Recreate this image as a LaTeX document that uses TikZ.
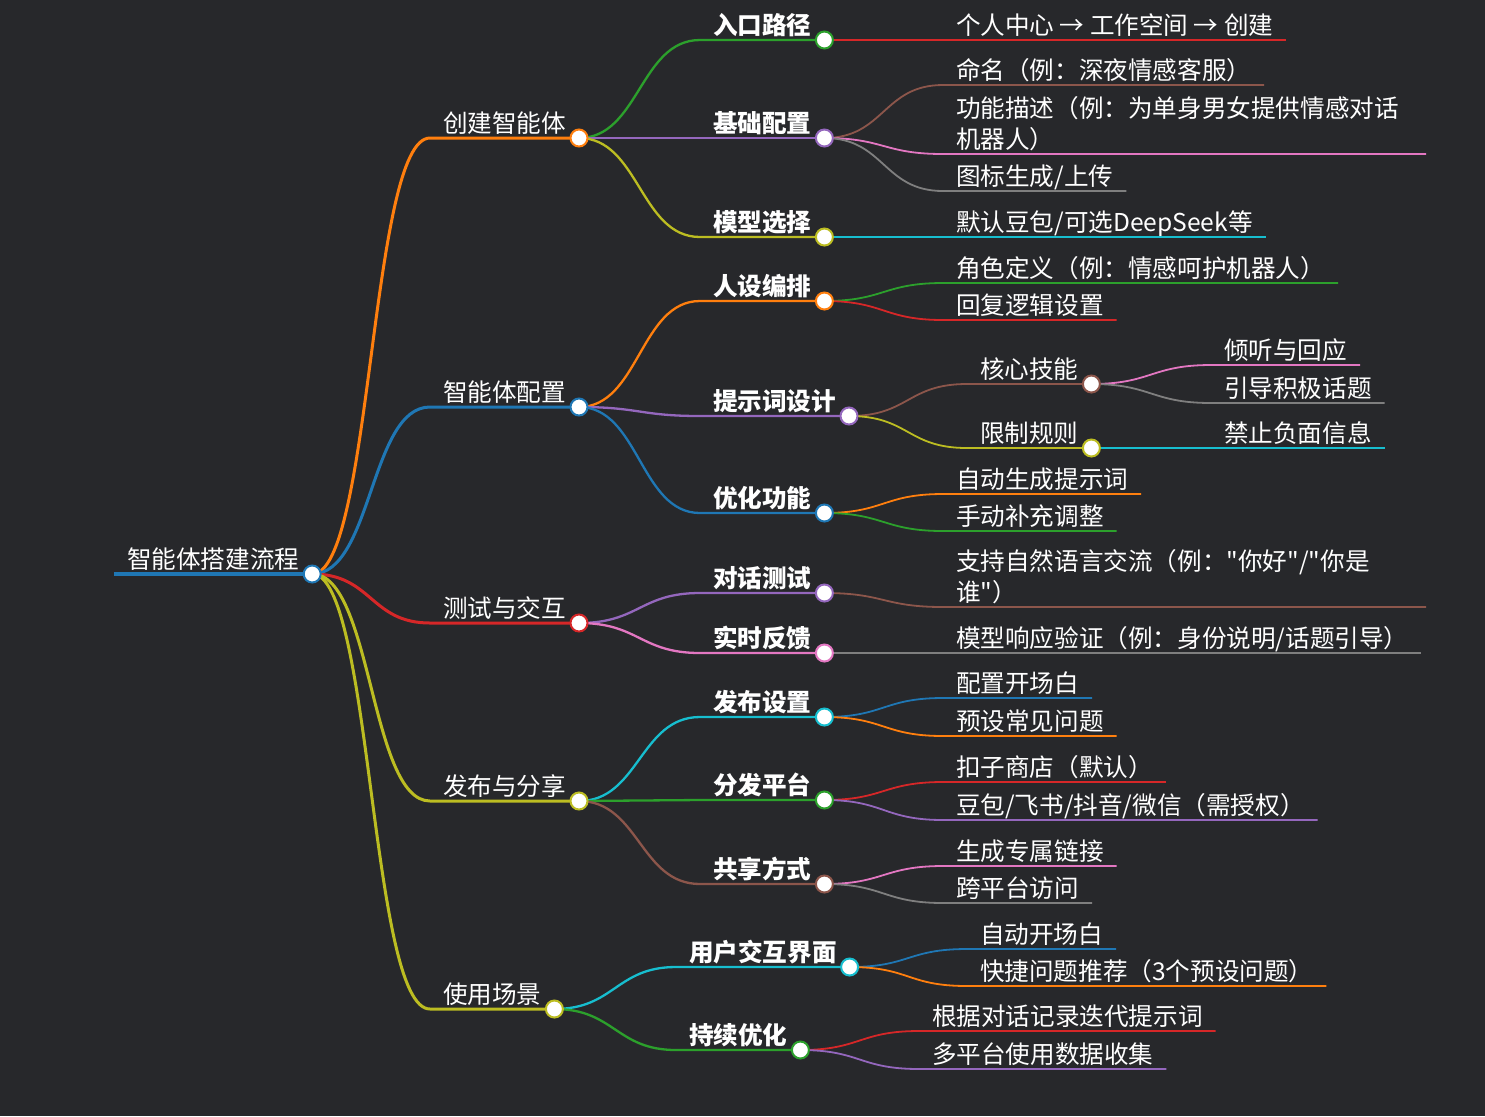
\documentclass[tikz,border=0pt]{standalone}
\usepackage{fontspec}
\setmainfont{Noto Sans CJK SC}[Ligatures=TeXOff]
\definecolor{bgdark}{RGB}{39,40,43}
\definecolor{mblue}{HTML}{1F77B4}
\definecolor{morange}{HTML}{FF7F0E}
\definecolor{mgreen}{HTML}{2CA02C}
\definecolor{mred}{HTML}{D62728}
\definecolor{mpurple}{HTML}{9467BD}
\definecolor{mbrown}{HTML}{8C564B}
\definecolor{mpink}{HTML}{E377C2}
\definecolor{mgray}{HTML}{7F7F7F}
\definecolor{molive}{HTML}{BCBD22}
\definecolor{mcyan}{HTML}{17BECF}

\begin{document}
\begin{tikzpicture}[
    x=0.5pt, y=-0.5pt,
    topic/.style={anchor=south west, text=white, inner xsep=6.5pt, inner ysep=2.6pt, text depth=0pt, outer sep=0pt, font=\fontsize{12.3}{15.5}\selectfont},
    sub/.style={topic, font=\fontsize{12.3}{15.5}\selectfont\bfseries},
    dot/.style={circle, fill=white, line width=1pt, inner sep=0pt, minimum size=8.5pt},
    lvA/.style={line width=1.5pt},
    lvB/.style={line width=1.15pt},
    lvC/.style={line width=0.9pt}
]
\useasboundingbox (0,0) rectangle (1485,1116);
\fill[bgdark] (0,0) rectangle (1485,1116);

% root and first level
\node[topic] (root) at (114,574) {智能体搭建流程};
\node[topic] (cj) at (430,138) {创建智能体};
\node[topic] (pz) at (430,407) {智能体配置};
\node[topic] (cs) at (430,623) {测试与交互};
\node[topic] (fb) at (430,801) {发布与分享};
\node[topic] (sy) at (430,1009) {使用场景};

% second level
\node[sub] (rk) at (700,40) {入口路径};
\node[sub] (jc) at (700,138) {基础配置};
\node[sub] (mx) at (700,237) {模型选择};
\node[sub] (rs) at (700,301) {人设编排};
\node[sub] (ts) at (700,416) {提示词设计};
\node[sub] (yh) at (700,513) {优化功能};
\node[sub] (dh) at (700,593) {对话测试};
\node[sub] (ss) at (700,653) {实时反馈};
\node[sub] (fs) at (700,717) {发布设置};
\node[sub] (ff) at (700,800) {分发平台};
\node[sub] (gx) at (700,884) {共享方式};
\node[sub] (jm) at (676,967) {用户交互界面};
\node[sub] (cx) at (676,1050) {持续优化};

% third level
\node[topic] (rkA) at (943,40) {个人中心 → 工作空间 → 创建};
\node[topic] (jcA) at (943,85) {命名（例：深夜情感客服）};
\node[topic] (jcB) at (943,154) {\parbox[b]{228.5pt}{功能描述（例：为单身男女提供情感对话\\机器人）}};
\node[topic] (jcC) at (943,191) {图标生成/上传};
\node[topic] (mxA) at (943,237) {默认豆包/可选DeepSeek等};
\node[topic] (rsA) at (943,283) {角色定义（例：情感呵护机器人）};
\node[topic] (rsB) at (943,320) {回复逻辑设置};
\node[topic] (hx) at (967,384) {核心技能};
\node[topic] (xz) at (967,448) {限制规则};
\node[topic] (yhA) at (943,494) {自动生成提示词};
\node[topic] (yhB) at (943,531) {手动补充调整};
\node[topic] (dhA) at (943,607) {\parbox[b]{228.5pt}{支持自然语言交流（例："你好"/"你是\\谁"）}};
\node[topic] (ssA) at (943,653) {模型响应验证（例：身份说明/话题引导）};
\node[topic] (fsA) at (943,698) {配置开场白};
\node[topic] (fsB) at (943,736) {预设常见问题};
\node[topic] (ffA) at (943,782) {扣子商店（默认）};
\node[topic] (ffB) at (943,820) {豆包/飞书/抖音/微信（需授权）};
\node[topic] (gxA) at (943,866) {生成专属链接};
\node[topic] (gxB) at (943,903) {跨平台访问};
\node[topic] (jmA) at (967,949) {自动开场白};
\node[topic] (jmB) at (967,986) {快捷问题推荐（3个预设问题）};
\node[topic] (cxA) at (919,1031) {根据对话记录迭代提示词};
\node[topic] (cxB) at (919,1069) {多平台使用数据收集};

% fourth level
\node[topic] (hxA) at (1211,365) {倾听与回应};
\node[topic] (hxB) at (1211,403) {引导积极话题};
\node[topic] (xzA) at (1211,448) {禁止负面信息};

% connectors
\draw[mblue, line width=2pt] (root.south west) -- (root.south east);
\foreach \a/\b/\c in {root/cj/morange, root/pz/mblue, root/cs/mred, root/fb/molive, root/sy/molive}
  \draw[lvA, \c] (\a.south east) .. controls +(60,0) and +(-60,0) .. (\b.south west) -- (\b.south east);
\foreach \a/\b/\c in {cj/rk/mgreen, cj/jc/mpurple, cj/mx/molive, pz/rs/morange, pz/ts/mpurple, pz/yh/mblue,
    cs/dh/mpurple, cs/ss/mpink, fb/fs/mcyan, fb/ff/mgreen, fb/gx/mbrown, sy/jm/mcyan, sy/cx/mgreen}
  \draw[lvB, \c] (\a.south east) .. controls +(60,0) and +(-60,0) .. (\b.south west) -- (\b.south east);
\foreach \a/\b/\c in {rk/rkA/mred, jc/jcA/mbrown, jc/jcB/mpink, jc/jcC/mgray, mx/mxA/mcyan,
    rs/rsA/mgreen, rs/rsB/mred, ts/hx/mbrown, ts/xz/molive, yh/yhA/morange, yh/yhB/mgreen,
    dh/dhA/mbrown, ss/ssA/mgray, fs/fsA/mblue, fs/fsB/morange, ff/ffA/mred, ff/ffB/mpurple,
    gx/gxA/mpink, gx/gxB/mgray, jm/jmA/mblue, jm/jmB/morange, cx/cxA/mred, cx/cxB/mpurple,
    hx/hxA/mpink, hx/hxB/mgray, xz/xzA/mcyan}
  \draw[lvC, \c] (\a.south east) .. controls +(60,0) and +(-60,0) .. (\b.south west) -- (\b.south east);

% dots
\foreach \n/\c in {root/mblue, cj/morange, pz/mblue, cs/mred, fb/molive, sy/molive,
    rk/mgreen, jc/mpurple, mx/molive, rs/morange, ts/mpurple, yh/mblue, dh/mpurple, ss/mpink,
    fs/mcyan, ff/mgreen, gx/mbrown, jm/mcyan, cx/mgreen, hx/mbrown, xz/molive}
  \node[dot, draw=\c] (d\n) at (\n.south east) {};
\end{tikzpicture}
\end{document}
